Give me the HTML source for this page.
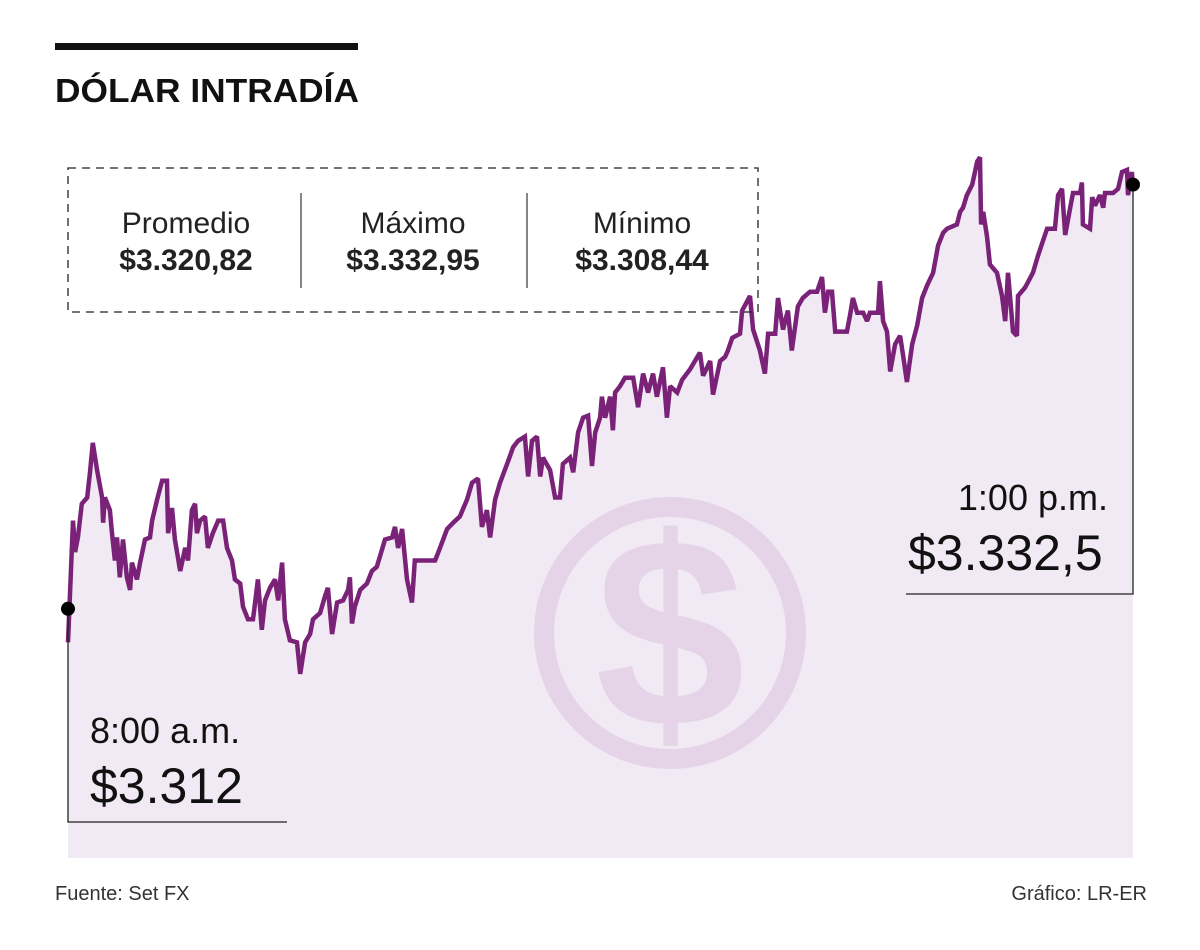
<!DOCTYPE html>
<html><head><meta charset="utf-8"><style>
body{margin:0;background:#fff;width:1200px;height:950px;overflow:hidden;font-family:"Liberation Sans",sans-serif}
svg{display:block}
</style></head><body>
<svg width="1200" height="950" viewBox="0 0 1200 950">
<rect x="55" y="43" width="303" height="7" fill="#111"/>
<text x="55" y="102" font-size="33" font-weight="bold" fill="#111" textLength="304" lengthAdjust="spacingAndGlyphs">DÓLAR INTRADÍA</text>
<g id="plot"></g>
<g>
<rect x="68" y="168" width="690" height="144" fill="none" stroke="#222" stroke-width="1.3" stroke-dasharray="8,6"/>
<line x1="301" y1="193" x2="301" y2="288" stroke="#444" stroke-width="1.3"/>
<line x1="527" y1="193" x2="527" y2="288" stroke="#444" stroke-width="1.3"/>
<g font-size="30" fill="#222" text-anchor="middle">
<text x="186" y="233">Promedio</text>
<text x="186" y="270" font-weight="bold">$3.320,82</text>
<text x="413" y="233">Máximo</text>
<text x="413" y="270" font-weight="bold">$3.332,95</text>
<text x="642" y="233">Mínimo</text>
<text x="642" y="270" font-weight="bold">$3.308,44</text>
</g></g>
<g fill="#111">
<text x="90" y="743" font-size="36">8:00 a.m.</text>
<text x="90" y="803" font-size="50">$3.312</text>
<text x="1108" y="510" font-size="36" text-anchor="end">1:00 p.m.</text>
<text x="908" y="570" font-size="50">$3.332,5</text>
</g>
<text x="55" y="900" font-size="20" fill="#333">Fuente: Set FX</text>
<text x="1147" y="900" font-size="20" fill="#333" text-anchor="end">Gráfico: LR-ER</text>
</svg>
<script>
const times=[0,1.4,2.0,2.8,3.9,5.4,6.2,7.0,8.2,9.6,9.9,10.4,11.8,12.4,13.2,13.8,14.6,15.5,16.6,17.5,18.0,19.4,20.3,21.7,23.1,23.7,25.1,26.5,27.9,28.2,29.3,30.1,31.6,33.0,33.8,34.9,35.8,36.3,37.2,38.6,39.4,40.8,42.3,43.7,44.8,46.2,47.0,48.5,49.3,50.7,52.1,52.7,53.5,54.6,55.5,56.9,58.3,59.2,60.3,61.1,62.5,64.5,65.4,66.8,68.2,69.0,71.0,72.4,73.2,74.4,75.8,77.5,78.9,79.4,80.0,80.8,82.3,84.2,85.6,87.0,87.9,89.3,91.3,92.1,93.0,94.1,95.5,96.9,97.7,103.4,104.8,106.8,108.5,110.4,112.4,113.8,115.5,116.6,118.0,118.9,120.3,121.7,123.7,125.4,126.8,128.7,129.6,130.7,132.1,133.0,133.8,135.8,137.2,138.6,139.4,141.4,142.3,143.7,145.1,146.5,147.6,148.5,149.9,150.4,151.3,152.7,153.5,154.1,155.5,156.9,159.2,160.6,162.0,163.4,164.8,165.9,167.6,168.7,169.6,171.6,173.0,175.2,178.0,178.9,180.9,181.7,183.7,185.1,185.9,187.1,189.3,189.9,192.1,193.0,194.9,196.3,197.2,199.2,200.0,201.4,202.8,203.9,205.6,207.0,209.0,211.0,212.4,213.2,214.1,215.2,216.1,219.4,220.3,221.1,222.3,224.0,225.1,225.9,228.2,228.7,229.6,230.7,231.6,233.0,234.4,235.2,236.3,237.8,239.2,240.6,242.0,243.7,245.1,246.5,247.6,250.4,251.3,252.1,253.2,254.7,256.1,256.9,257.2,257.8,258.9,259.7,261.7,263.1,264.0,264.8,266.2,267.3,267.6,269.6,271.8,273.2,274.6,275.8,278.0,278.9,280.0,280.9,282.3,283.1,285.1,285.6,285.9,287.9,288.5,289.3,290.7,291.6,292.1,294.4,295.8,296.9,298.3,298.6,299.7,300];
const prices=[3309.6,3315.4,3313.9,3314.6,3316.2,3316.5,3317.7,3319.1,3317.8,3316.5,3315.3,3316.5,3315.9,3314.8,3313.5,3314.6,3312.7,3314.5,3312.7,3312.1,3313.4,3312.6,3313.4,3314.5,3314.6,3315.4,3316.4,3317.3,3317.3,3314.8,3316.0,3314.5,3313.0,3314.1,3313.5,3315.9,3316.2,3314.8,3315.4,3315.6,3314.1,3314.8,3315.4,3315.4,3314.1,3313.5,3312.6,3312.4,3311.3,3310.7,3310.7,3311.5,3312.6,3310.2,3311.6,3312.2,3312.6,3311.6,3313.4,3310.7,3309.7,3309.6,3308.1,3309.6,3310.0,3310.7,3311.0,3311.8,3312.2,3310.0,3311.5,3311.6,3312.1,3312.7,3310.5,3311.3,3312.1,3312.4,3313.0,3313.2,3313.7,3314.5,3314.6,3315.1,3314.1,3315.0,3312.6,3311.5,3313.5,3313.5,3314.1,3315.0,3315.3,3315.6,3316.4,3317.2,3317.4,3315.1,3315.9,3314.6,3316.4,3317.2,3318.1,3318.9,3319.2,3319.4,3317.5,3319.2,3319.4,3317.5,3318.4,3317.8,3316.5,3316.5,3318.1,3318.4,3317.7,3319.6,3320.3,3320.4,3318.0,3319.6,3320.3,3321.3,3320.3,3321.3,3319.7,3321.5,3321.8,3322.2,3322.2,3320.8,3322.4,3321.5,3322.4,3321.3,3322.7,3320.3,3321.8,3321.5,3322.1,3322.6,3323.4,3322.3,3323.0,3321.4,3323.0,3323.2,3323.5,3324.1,3324.3,3325.4,3326.1,3324.5,3323.5,3322.4,3324.3,3324.3,3326.0,3324.5,3325.4,3323.5,3325.6,3326.0,3326.3,3326.3,3327.0,3325.3,3326.3,3326.3,3324.4,3324.4,3325.2,3326.0,3325.3,3325.3,3324.9,3325.3,3325.3,3326.8,3324.9,3324.4,3322.5,3323.8,3324.2,3323.3,3322.0,3323.8,3324.7,3326.0,3326.6,3327.2,3328.5,3329.1,3329.3,3329.5,3330.1,3330.3,3330.9,3331.4,3332.5,3332.7,3329.5,3330.1,3328.9,3327.6,3327.2,3326.1,3324.9,3327.2,3324.4,3324.2,3326.1,3326.5,3327.2,3328.0,3328.7,3329.3,3329.3,3330.9,3331.2,3329.0,3330.3,3331.0,3331.0,3331.5,3329.5,3329.3,3330.8,3330.4,3330.9,3330.3,3331.0,3331.0,3331.2,3332.0,3332.1,3330.9,3332.0,3331.2];
const startPrice=3311.2, endPrice=3331.4;
const xS=t=>68+t/300*1065;
const yS=v=>676-(v-3308)*21;
const NS='http://www.w3.org/2000/svg';
const g=document.getElementById('plot');
function mk(tag,attrs){const e=document.createElementNS(NS,tag);for(const k in attrs)e.setAttribute(k,attrs[k]);return e;}
let pts=times.map((t,i)=>xS(t).toFixed(1)+','+yS(prices[i]).toFixed(1));
const area=mk('path',{d:'M'+xS(0)+',858 L'+pts.join(' L')+' L'+xS(300)+',858 Z',fill:'#f1e9f3'});


g.appendChild(area);
const wm=mk('g',{});


wm.appendChild(mk('circle',{cx:670,cy:633,r:126,fill:'none',stroke:'#e5d4e8','stroke-width':20}));
const dt=mk('text',{x:670,y:726,'font-size':270,'font-weight':'bold',fill:'#e5d4e8','text-anchor':'middle','font-family':'Liberation Sans, sans-serif'});
dt.textContent='$';wm.appendChild(dt);g.appendChild(wm);
const line=mk('polyline',{points:pts.join(' '),fill:'none',stroke:'#7a2278','stroke-width':4.5,'stroke-linejoin':'miter','stroke-miterlimit':2});


g.appendChild(line);
const sl=mk('polyline',{points:xS(0)+','+yS(startPrice)+' '+xS(0)+',822 287,822',fill:'none',stroke:'#222','stroke-width':1.3});


g.appendChild(sl);
const el=mk('polyline',{points:xS(300)+','+yS(endPrice)+' '+xS(300)+',594 906,594',fill:'none',stroke:'#222','stroke-width':1.3});


g.appendChild(el);
const sd=mk('circle',{cx:xS(0),cy:yS(startPrice),r:7,fill:'#000'});


g.appendChild(sd);
const ed=mk('circle',{cx:xS(300),cy:yS(endPrice),r:7,fill:'#000'});


g.appendChild(ed);
</script>
</body></html>
